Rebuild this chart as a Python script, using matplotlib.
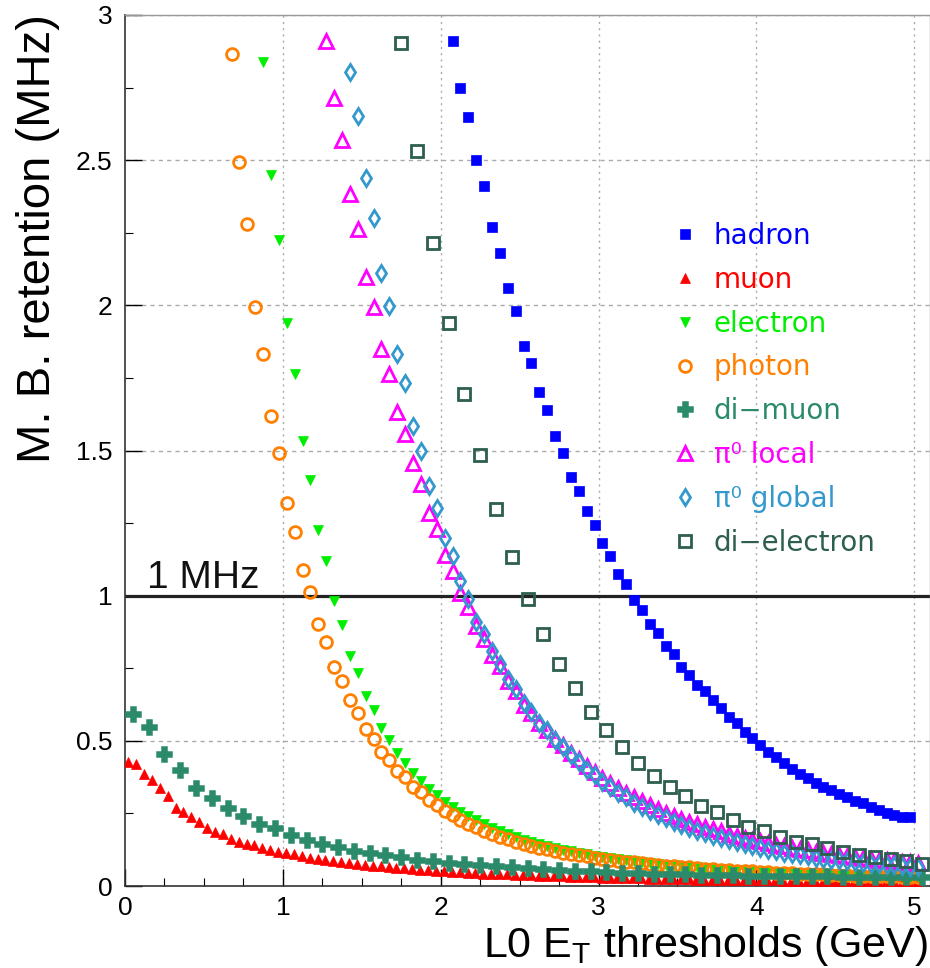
import numpy as np
import matplotlib
matplotlib.use("Agg")
import matplotlib.pyplot as plt
from matplotlib.ticker import MultipleLocator, FormatStrFormatter

# ---------------- data ----------------
# L0 ET thresholds (GeV): each series starts at x0 with a constant step
hadron_x0, hadron_dx = 2.075, 0.05
hadron_y = [2.91, 2.75, 2.65, 2.50, 2.41, 2.27, 2.18, 2.06, 1.98, 1.86,
            1.80, 1.70, 1.64, 1.55, 1.49, 1.41, 1.36, 1.29, 1.245, 1.18,
            1.136, 1.076, 1.039, 0.984, 0.952, 0.903, 0.871, 0.825, 0.800, 0.755,
            0.727, 0.693, 0.670, 0.641, 0.612, 0.582, 0.561, 0.532, 0.509, 0.486,
            0.463, 0.446, 0.425, 0.403, 0.386, 0.371, 0.356, 0.342, 0.331, 0.317,
            0.305, 0.293, 0.285, 0.273, 0.262, 0.253, 0.245, 0.239, 0.236]

muon_x0, muon_dx = 0.02, 0.05
muon_y = [0.428, 0.421, 0.385, 0.366, 0.337, 0.310, 0.270, 0.254, 0.239, 0.221,
          0.199, 0.187, 0.178, 0.161, 0.152, 0.145, 0.141, 0.130, 0.124, 0.117,
          0.112, 0.109, 0.103, 0.098, 0.094, 0.090, 0.086, 0.083, 0.079, 0.076,
          0.073, 0.070, 0.068, 0.065, 0.063, 0.061, 0.058, 0.056, 0.054, 0.052,
          0.050, 0.049, 0.047, 0.046, 0.044, 0.043, 0.042, 0.041, 0.040, 0.039,
          0.038, 0.037, 0.036, 0.035, 0.034, 0.033, 0.032, 0.031, 0.031, 0.030,
          0.029, 0.028, 0.028, 0.027, 0.027, 0.026, 0.025, 0.025, 0.024, 0.024,
          0.023, 0.023, 0.022, 0.022, 0.022, 0.021, 0.021, 0.020, 0.020, 0.020,
          0.019, 0.019, 0.019, 0.018, 0.018, 0.018, 0.018, 0.017, 0.017, 0.017,
          0.017, 0.016, 0.016, 0.016, 0.016, 0.016, 0.015, 0.015, 0.015, 0.015,
          0.015]

electron_x0, electron_dx = 0.875, 0.05
electron_y = [2.839, 2.448, 2.225, 1.940, 1.764, 1.534, 1.400, 1.225, 1.118, 0.980,
              0.900, 0.791, 0.733, 0.655, 0.605, 0.544, 0.503, 0.457, 0.425, 0.389,
              0.363, 0.333, 0.314, 0.291, 0.273, 0.256, 0.240, 0.226, 0.212, 0.200,
              0.189, 0.178, 0.169, 0.160, 0.152, 0.144, 0.137, 0.131, 0.125, 0.119,
              0.114, 0.109, 0.104, 0.100, 0.096, 0.092, 0.088, 0.085, 0.082, 0.079,
              0.076, 0.073, 0.071, 0.068, 0.066, 0.064, 0.062, 0.060, 0.058, 0.056,
              0.055, 0.053, 0.052, 0.050, 0.049, 0.048, 0.046, 0.045, 0.044, 0.043,
              0.042, 0.041, 0.040, 0.039, 0.038, 0.037, 0.036, 0.036, 0.035, 0.034,
              0.034, 0.033, 0.032, 0.032]

photon_x0, photon_dx = 0.675, 0.05
photon_y = [2.866, 2.494, 2.279, 1.994, 1.831, 1.618, 1.492, 1.320, 1.220, 1.087,
            1.011, 0.902, 0.839, 0.755, 0.705, 0.639, 0.595, 0.540, 0.505, 0.461,
            0.433, 0.396, 0.375, 0.342, 0.324, 0.297, 0.279, 0.260, 0.243, 0.228,
            0.214, 0.202, 0.190, 0.180, 0.170, 0.161, 0.153, 0.146, 0.139, 0.132,
            0.126, 0.120, 0.115, 0.110, 0.106, 0.102, 0.098, 0.094, 0.090, 0.087,
            0.084, 0.081, 0.078, 0.075, 0.073, 0.070, 0.068, 0.066, 0.064, 0.062,
            0.060, 0.058, 0.056, 0.055, 0.053, 0.052, 0.050, 0.049, 0.048, 0.046,
            0.045, 0.044, 0.043, 0.042, 0.041, 0.040, 0.039, 0.038, 0.037, 0.036,
            0.036, 0.035, 0.034, 0.034, 0.033, 0.032, 0.032, 0.031]

dimuon_x0, dimuon_dx = 0.05, 0.1
dimuon_y = [0.592, 0.546, 0.454, 0.400, 0.337, 0.304, 0.268, 0.241, 0.212, 0.201,
            0.176, 0.159, 0.145, 0.135, 0.122, 0.112, 0.107, 0.101, 0.090, 0.086,
            0.080, 0.076, 0.071, 0.068, 0.064, 0.061, 0.058, 0.055, 0.052, 0.050,
            0.048, 0.046, 0.044, 0.043, 0.041, 0.040, 0.039, 0.038, 0.037, 0.036,
            0.035, 0.034, 0.034, 0.033, 0.033, 0.032, 0.032, 0.031, 0.031, 0.030,
            0.030]

pi0local_x0, pi0local_dx = 1.275, 0.05
pi0local_y = [2.911, 2.713, 2.570, 2.385, 2.264, 2.098, 1.995, 1.848, 1.762, 1.633,
              1.557, 1.457, 1.385, 1.285, 1.228, 1.139, 1.084, 1.009, 0.960, 0.894,
              0.850, 0.797, 0.759, 0.705, 0.670, 0.624, 0.595, 0.561, 0.538, 0.508,
              0.485, 0.458, 0.437, 0.412, 0.394, 0.372, 0.356, 0.337, 0.322, 0.305,
              0.292, 0.278, 0.266, 0.253, 0.242, 0.232, 0.222, 0.213, 0.204, 0.196,
              0.188, 0.180, 0.173, 0.166, 0.160, 0.154, 0.148, 0.142, 0.137, 0.132,
              0.127, 0.123, 0.118, 0.114, 0.110, 0.107, 0.103, 0.100, 0.097, 0.094,
              0.091, 0.089, 0.086, 0.084, 0.082, 0.080]

pi0global_x0, pi0global_dx = 1.425, 0.05
pi0global_y = [2.805, 2.653, 2.440, 2.300, 2.112, 1.998, 1.834, 1.731, 1.586, 1.500,
               1.377, 1.302, 1.199, 1.136, 1.049, 0.990, 0.911, 0.869, 0.811, 0.766,
               0.713, 0.678, 0.632, 0.601, 0.563, 0.538, 0.503, 0.480, 0.451, 0.428,
               0.400, 0.383, 0.359, 0.342, 0.322, 0.305, 0.287, 0.273, 0.259, 0.245,
               0.233, 0.221, 0.210, 0.200, 0.190, 0.181, 0.173, 0.165, 0.157, 0.150,
               0.143, 0.137, 0.131, 0.125, 0.120, 0.115, 0.110, 0.106, 0.102, 0.098,
               0.094, 0.091, 0.088, 0.085, 0.082, 0.080, 0.077, 0.075, 0.073, 0.071,
               0.069, 0.067, 0.066]

dielectron_x0, dielectron_dx = 1.75, 0.1
dielectron_y = [2.902, 2.530, 2.216, 1.938, 1.693, 1.486, 1.299, 1.132, 0.988, 0.868,
                0.766, 0.682, 0.599, 0.536, 0.478, 0.425, 0.379, 0.342, 0.310, 0.276,
                0.254, 0.228, 0.204, 0.190, 0.168, 0.153, 0.145, 0.130, 0.116, 0.107,
                0.101, 0.092, 0.086, 0.076]

labels = ["hadron", "muon", "electron", "photon", "di\u2212muon",
          "\u03c0\u2070 local", "\u03c0\u2070 global", "di\u2212electron"]
colors = ["#0000ff", "#ff0000", "#00ee00", "#ff8000", "#2a8a6a",
          "#ff00ff", "#3399cc", "#2d5e4e"]

reference_rate = 1.0
x_ticks = [0, 1, 2, 3, 4, 5]
y_ticks = [0, 0.5, 1, 1.5, 2, 2.5, 3]

# ---------------- figure ----------------
fig = plt.figure(figsize=(9.30, 9.68), dpi=100)
ax = fig.add_axes([125 / 930, 82 / 968, 805 / 930, 871 / 968])

series = [
    (hadron_x0, hadron_dx, hadron_y, dict(marker="s", ms=7.5, mfc=colors[0], mec=colors[0], mew=0.5)),
    (muon_x0, muon_dx, muon_y, dict(marker="^", ms=7.5, mfc=colors[1], mec=colors[1], mew=0.5)),
    (electron_x0, electron_dx, electron_y, dict(marker="v", ms=7.5, mfc=colors[2], mec=colors[2], mew=0.5)),
    (photon_x0, photon_dx, photon_y, dict(marker="o", ms=8.5, mfc="none", mec=colors[3], mew=2.0)),
    (dimuon_x0, dimuon_dx, dimuon_y, dict(marker="P", ms=10, mfc=colors[4], mec=colors[4], mew=1.8)),
    (pi0local_x0, pi0local_dx, pi0local_y, dict(marker="^", ms=10, mfc="none", mec=colors[5], mew=2.0)),
    (pi0global_x0, pi0global_dx, pi0global_y, dict(marker="d", ms=8, mfc="none", mec=colors[6], mew=2.0)),
    (dielectron_x0, dielectron_dx, dielectron_y, dict(marker="s", ms=9, mfc="none", mec=colors[7], mew=2.0)),
]

handles = []
for (x0, dx, ys, st), lab in zip(series, labels):
    xs = x0 + dx * np.arange(len(ys))
    h, = ax.plot(xs, ys, linestyle="none", label=lab, zorder=3, **st)
    handles.append(h)

ax.axhline(reference_rate, color="#222222", lw=2.3, zorder=2)
ax.text(0.14, 1.025, "1 MHz", fontsize=28, family="Liberation Sans",
        ha="left", va="baseline", color="#111111")

ax.set_xlim(0, 5.1)
ax.set_ylim(0, 3)
ax.set_xticks(x_ticks)
ax.set_yticks(y_ticks)
ax.xaxis.set_major_formatter(FormatStrFormatter("%g"))
ax.yaxis.set_major_formatter(FormatStrFormatter("%g"))
ax.xaxis.set_minor_locator(MultipleLocator(0.25))
ax.yaxis.set_minor_locator(MultipleLocator(0.25))
ax.tick_params(which="both", direction="in", top=False, right=False)
ax.tick_params(which="major", length=12, width=1.0, labelsize=19)
ax.tick_params(axis="x", which="major", pad=7)
ax.tick_params(axis="y", which="major", pad=9)
ax.tick_params(which="minor", length=6, width=0.8)
for lab in ax.get_xticklabels() + ax.get_yticklabels():
    lab.set_family("Liberation Sans")

for xv in x_ticks[1:]:
    ax.axvline(xv, color="#aaaaaa", lw=1.0, ls=(0, (1.5, 3)), zorder=1)
for yv in y_ticks[1:]:
    ax.axhline(yv, color="#aaaaaa", lw=1.0, ls=(0, (3, 3)), zorder=1)

for side in ["left", "bottom"]:
    ax.spines[side].set_color("#333333")
    ax.spines[side].set_linewidth(1.2)
for side in ["top", "right"]:
    ax.spines[side].set_color("#999999")
    ax.spines[side].set_linewidth(1.0)

fig.text(38 / 930, 1 - 14 / 968, "M. B. retention (MHz)", rotation=90,
         fontsize=34, family="Liberation Sans", ha="center", va="top")
fig.text(928 / 930, 1 - 946 / 968, "L0 E$_{\\mathregular{T}}$ thresholds (GeV)",
         fontsize=31, family="Liberation Sans", ha="right", va="center")

leg = ax.legend(handles=handles, loc="upper left",
                bbox_to_anchor=((657 - 125) / 805, (886 - 208) / 871),
                frameon=False, handlelength=1.0,
                handletextpad=0.55, labelspacing=0.57, borderpad=0.0,
                prop={"family": "DejaVu Sans", "size": 20})
for txt, c in zip(leg.get_texts(), colors):
    txt.set_color(c)

fig.savefig("out.png", dpi=100)
